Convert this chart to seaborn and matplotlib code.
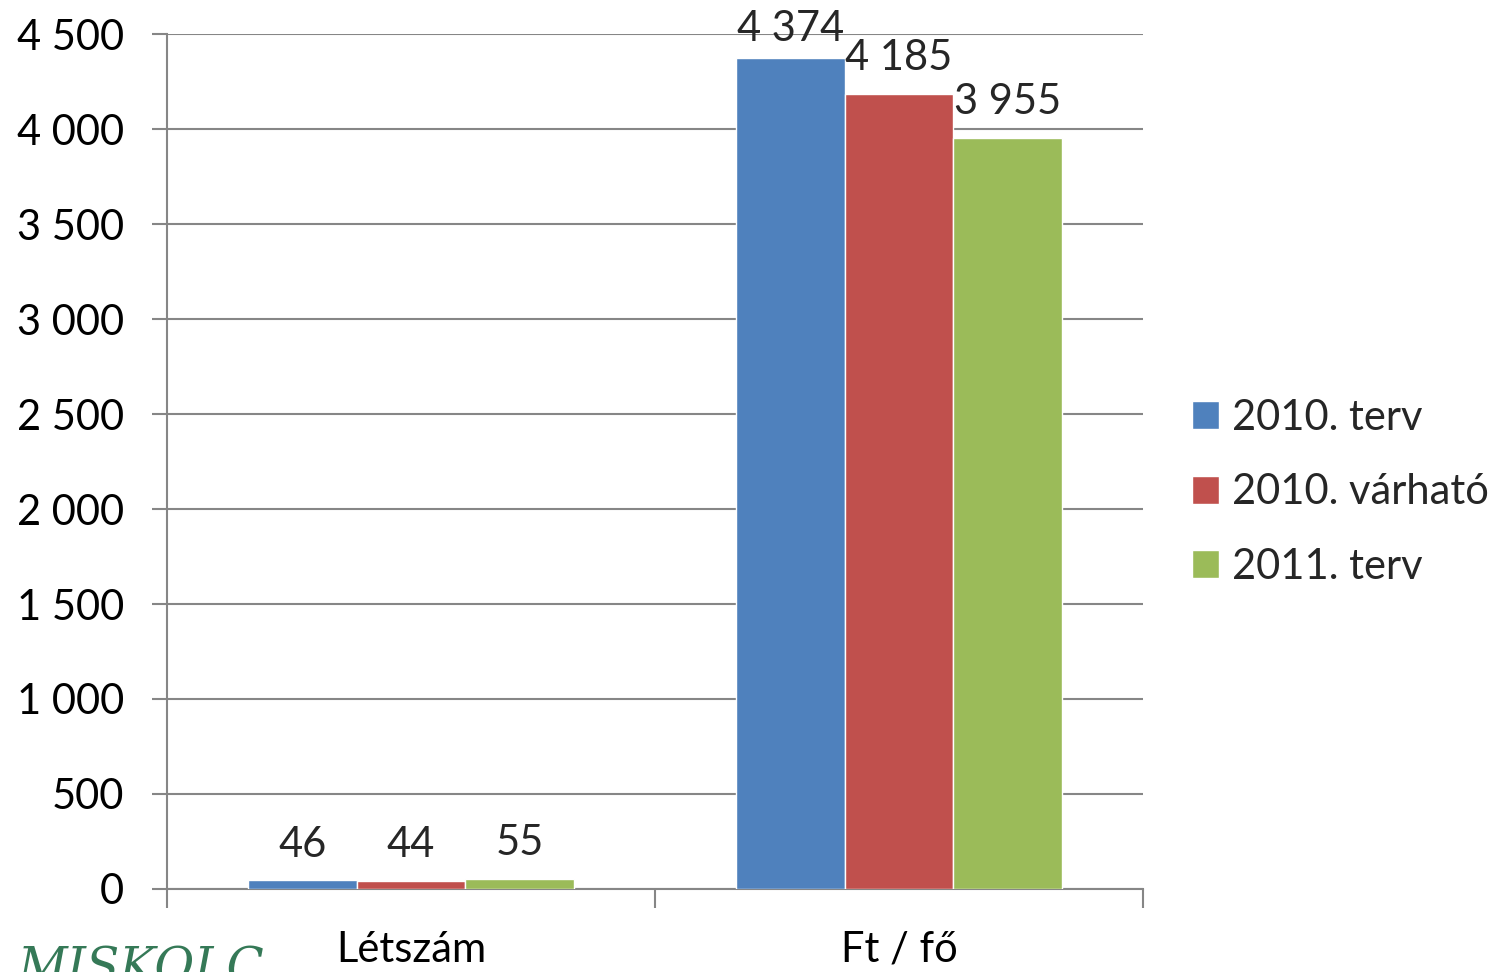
import seaborn as sns
import matplotlib.pyplot as plt
import pandas as pd
from matplotlib.ticker import FixedLocator, FuncFormatter

sns.set_theme(style="white")
plt.rcParams['font.family'] = ['Lato', 'DejaVu Sans']

# data
categories = ["Létszám", "Ft / fő"]
series = ["2010. terv", "2010. várható", "2011. terv"]
terv_2010 = [46, 4374]
varhato_2010 = [44, 4185]
terv_2011 = [55, 3955]
colors = ["#4F81BD", "#C0504D", "#9BBB59"]

df = pd.DataFrame({
    "cat": categories * 3,
    "series": [s for s in series for _ in categories],
    "value": terv_2010 + varhato_2010 + terv_2011,
})

fig = plt.figure(figsize=(15.07, 9.72), dpi=100)
ax = fig.add_axes([0.1108, 0.0854, 0.6477, 0.8796])

sns.barplot(data=df, x="cat", y="value", hue="series", palette=colors,
            width=0.667, gap=0, saturation=1, ax=ax, zorder=3)

def fmt(v, pos=None):
    return f"{int(v):,}".replace(",", " ")

# value labels; the tallest one is squeezed down so it stays inside the figure
for cont in ax.containers:
    for b in cont:
        h = b.get_height()
        pad = 7 if h > 4300 else 12
        ax.annotate(fmt(h), (b.get_x() + b.get_width() / 2, h),
                    xytext=(0, pad), textcoords="offset points",
                    ha="center", va="bottom", fontsize=30, annotation_clip=False)

ax.set_ylim(0, 4500)
ax.set_xlim(-0.5, 1.5)
ax.set_yticks(range(0, 4501, 500))
ax.yaxis.set_major_formatter(FuncFormatter(fmt))
ax.yaxis.grid(True, color="#868686", linewidth=1.5, zorder=0)
ax.set_xlabel("")
ax.set_ylabel("")

ax.xaxis.set_minor_locator(FixedLocator([-0.5, 0.5, 1.5]))
ax.tick_params(axis="x", which="major", length=0, pad=30, labelsize=30, colors="black")
ax.tick_params(axis="x", which="minor", bottom=True, length=14, width=1.5, color="#868686")
ax.tick_params(axis="y", left=True, length=11, width=1.5, color="#868686",
               pad=20, labelsize=30, labelcolor="black")

sns.despine(ax=ax)
for s in ("left", "bottom"):
    ax.spines[s].set_color("#868686")
    ax.spines[s].set_linewidth(1.5)

ax.legend(loc="center left", bbox_to_anchor=(1.033, 0.464), frameon=False,
          fontsize=30, handlelength=0.65, handleheight=0.65, handletextpad=0.3,
          labelspacing=0.88, borderaxespad=0)

fig.text(0.012, 1 - 945 / 972, "MISKOLC", family="DejaVu Serif", style="italic",
         fontsize=35, color="#1F6B45", alpha=0.9, va="top")

fig.savefig("out.png", dpi=100)
